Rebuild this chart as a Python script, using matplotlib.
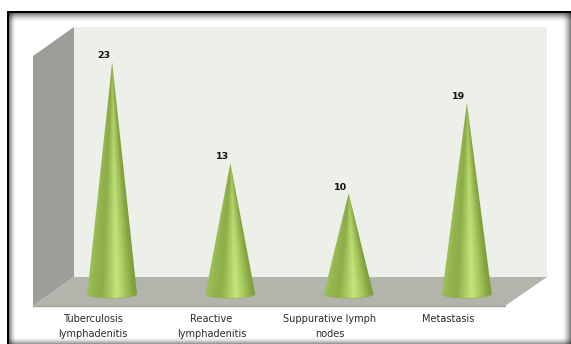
import numpy as np
import matplotlib
matplotlib.use("Agg")
import matplotlib.pyplot as plt
from matplotlib.colors import LinearSegmentedColormap
from matplotlib.patches import Polygon, Rectangle, PathPatch
from matplotlib.path import Path

categories = ["Tuberculosis\nlymphadenitis", "Reactive\nlymphadenitis",
              "Suppurative lymph\nnodes", "Metastasis"]
cases = [23, 13, 10, 19]

W, H = 571, 344
fig = plt.figure(figsize=(W / 100, H / 100), dpi=100, facecolor="white")

# Pixel-space layer for the picture frame and the 3D box
bg = fig.add_axes([0, 0, 1, 1])
bg.set_xlim(0, W)
bg.set_ylim(H, 0)
bg.axis("off")

# Frame shadow: falls off inward from each edge of the picture
yy, xx = np.mgrid[0:H, 0:W] + 0.5
ramp = lambda d, n: np.clip(1 - d / n, 0, 1) ** 1.6
alpha = 1 - (1 - 0.55 * ramp(yy - 13, 9) * (yy >= 13)) \
          * (1 - 0.55 * ramp(xx - 9, 7) * (xx >= 9)) \
          * (1 - 0.55 * ramp(571 - xx, 9)) \
          * (1 - 0.45 * ramp(344 - yy, 7))
alpha[(yy < 13) | (xx < 9)] = 0
rgba = np.zeros((H, W, 4))
rgba[..., 3] = alpha
bg.imshow(rgba, extent=(0, W, H, 0), aspect="auto", interpolation="nearest")
bg.add_patch(Rectangle((7, 11), 2.4, 333, fc="black", ec="none"))
bg.add_patch(Rectangle((7, 11), 564, 2.0, fc="black", ec="none"))
bg.set_xlim(0, W)
bg.set_ylim(H, 0)

# Box walls and floor
bg.add_patch(Polygon([(33, 56), (74, 27), (74, 277), (33, 306)], fc="#9c9e98", ec="none"))
bg.add_patch(Rectangle((74, 27), 473, 250, fc="#edefe9", ec="none"))
bg.add_patch(Polygon([(33, 306), (74, 277), (547, 277), (505, 306)], fc="#b3b5ad", ec="none"))
bg.plot([33, 505], [306.2, 306.2], color="#a2a49d", lw=1)

# Data axes: categories on x, case counts on y (extends below zero for the cone rims)
left, right = 53, 526
px_per_case = 10.08
bottom_px, top_px = 294 + px_per_case, 294 - 25 * px_per_case
ax = fig.add_axes([left / W, 1 - bottom_px / H, (right - left) / W, (bottom_px - top_px) / H])
ax.patch.set_alpha(0)
ax.set_xlim(-0.5, 3.5)
ax.set_ylim(-1, 25)
for s in ax.spines.values():
    s.set_visible(False)
ax.set_yticks([])
# Category labels sit on the front edge of the floor, left of the cones
ax.set_xticks(np.arange(len(categories)) - 0.16)
ax.set_xticklabels(categories, fontsize=7.0, color="#2a2a2a", linespacing=1.6)
ax.tick_params(axis="x", length=0, pad=7.2)

cmap = LinearSegmentedColormap.from_list(
    "cone", [(0.0, "#9cc257"), (0.12, "#93b54e"), (0.3, "#8eae4a"), (0.45, "#a8ca5f"),
             (0.6, "#c6e67c"), (0.75, "#a9cb60"), (0.92, "#86a642"), (1.0, "#7c9c3b")])

half_width = 0.21
base_depth = 0.42
for i, v in enumerate(cases):
    t = np.linspace(0, np.pi, 40)
    rim = np.column_stack([i - half_width * np.cos(t), -base_depth * np.sin(t)])
    verts = np.vstack([rim, [[i, v]], rim[:1]])
    codes = [Path.MOVETO] + [Path.LINETO] * (len(verts) - 2) + [Path.CLOSEPOLY]
    clip = PathPatch(Path(verts, codes), transform=ax.transData, fc="none", ec="none")
    ax.add_patch(clip)

    # Shade across the cone's own width at each height, so the bands taper to the tip
    ys = np.linspace(v, -base_depth, 300)
    xs = np.linspace(-half_width, half_width, 100)
    gx, gy = np.meshgrid(xs, ys)
    width = half_width * np.clip(1 - np.maximum(gy, 0) / v, 0.01, None)
    u = np.clip((gx / width + 1) / 2, 0, 1)
    colours = cmap(u)[..., :3]
    # Olive tone toward the tip
    tip = np.clip(gy / v, 0, 1)[..., None] ** 2
    colours = colours * (1 - 0.55 * tip) + np.array([0.53, 0.64, 0.27]) * 0.55 * tip
    im = ax.imshow(colours, aspect="auto", interpolation="bilinear",
                   extent=(i - half_width, i + half_width, -base_depth, v), zorder=3)
    im.set_clip_path(clip)
    ax.plot(rim[:, 0], rim[:, 1], color="#8fb04a", lw=0.5, alpha=0.7, zorder=4)
    ax.annotate(str(v), (i, v), xytext=(-5.8, 1.2), textcoords="offset points",
                ha="center", va="bottom", fontsize=6.8, fontweight="bold", color="#111111")
ax.set_xlim(-0.5, 3.5)
ax.set_ylim(-1, 25)

fig.savefig("out.png", dpi=100)
